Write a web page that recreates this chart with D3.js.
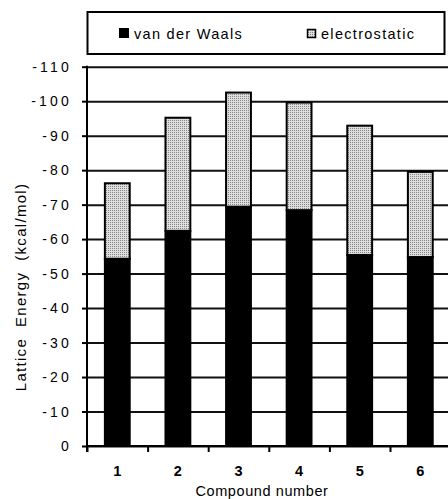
<!DOCTYPE html>
<html>
<head>
<meta charset="utf-8">
<script src="https://cdn.jsdelivr.net/npm/d3@7"></script>
<style>
  body { margin: 0; background: #fff; }
  svg { display: block; }
  text { font-family: "Liberation Sans", Arial, Helvetica, sans-serif; fill: #000; }
</style>
</head>
<body>
<svg id="chart" width="448" height="499"></svg>
<script>
let compounds = ["1", "2", "3", "4", "5", "6"]
let vdw = [-54.3, -62.4, -69.4, -68.4, -55.4, -54.8]
let electrostatic = [-21.9, -32.8, -33.1, -31.2, -37.5, -24.7]
let yTicks = [0, -10, -20, -30, -40, -50, -60, -70, -80, -90, -100, -110]
let seriesNames = ["van der Waals", "electrostatic"]

let width = 448,
  height = 499,
  left = 87,
  bottom = 446

let svg = d3.select("#chart")

// stipple fill for the electrostatic part
let pat = svg.append("defs").append("pattern")
  .attr("id", "stipple")
  .attr("patternUnits", "userSpaceOnUse")
  .attr("width", 2)
  .attr("height", 2)
pat.append("rect").attr("width", 2).attr("height", 2).attr("fill", "#dedede")
pat.append("rect").attr("width", 1).attr("height", 1).attr("fill", "#858585")

let y = d3.scaleLinear()
  .domain([0, -110])
  .range([bottom, 66.7])

let x = d3.scaleBand()
  .domain(compounds)
  .range([left, 450.6])
  .paddingInner(0.59)
  .paddingOuter(0.295)

let rows = compounds.map((c, i) => ({ compound: c, vdw: vdw[i], elec: electrostatic[i] }))
let stacked = d3.stack()
  .keys(["vdw", "elec"])
  .offset(d3.stackOffsetDiverging)(rows)

// gridlines
svg.append("g")
  .attr("transform", `translate(${left},0)`)
  .call(d3.axisLeft(y).tickValues(yTicks).tickSize(-(width - left)).tickFormat(""))
  .call(g => g.select(".domain").remove())
  .call(g => g.selectAll("line").attr("stroke", "#111").attr("stroke-width", 2))

// y axis with labels
svg.append("g")
  .attr("transform", `translate(${left},0)`)
  .call(d3.axisLeft(y).tickValues(yTicks).tickSize(5).tickPadding(10).tickFormat(d => String(d)))
  .call(g => g.select(".domain").remove())
  .call(g => g.selectAll("line").attr("stroke", "#000").attr("stroke-width", 2))
  .call(g => g.selectAll("text")
    .attr("font-size", 14)
    .attr("letter-spacing", 3.2)
    .attr("font-family", "'Liberation Sans', Arial, sans-serif"))

// bars
let bars = svg.append("g")
stacked.forEach(s => {
  bars.selectAll(null)
    .data(s).enter()
    .append("rect")
    .attr("x", d => x(d.data.compound))
    .attr("width", x.bandwidth())
    .attr("y", d => y(d[0]))
    .attr("height", d => y(d[1]) - y(d[0]))
    .attr("fill", s.key == "vdw" ? "#000" : "url(#stipple)")
    .attr("stroke", "#000")
    .attr("stroke-width", 2)
})

// axis lines
svg.append("line")
  .attr("x1", left).attr("x2", left)
  .attr("y1", y(-110) - 1).attr("y2", bottom + 6)
  .attr("stroke", "#000").attr("stroke-width", 2)
svg.append("line")
  .attr("x1", left).attr("x2", width)
  .attr("y1", bottom).attr("y2", bottom)
  .attr("stroke", "#000").attr("stroke-width", 2)

// x ticks at category boundaries
let xb = d3.scaleLinear().domain([0, 6]).range([left, 450.6])
svg.append("g")
  .attr("transform", `translate(0,${bottom})`)
  .call(d3.axisBottom(xb).ticks(6).tickSize(6).tickFormat(""))
  .call(g => g.select(".domain").remove())
  .call(g => g.selectAll("line").attr("stroke", "#000").attr("stroke-width", 2))

// x labels
svg.append("g")
  .attr("transform", `translate(0,${bottom})`)
  .call(d3.axisBottom(x).tickSize(0).tickPadding(20))
  .call(g => g.select(".domain").remove())
  .call(g => g.selectAll("text")
    .attr("font-size", 14.5)
    .attr("font-weight", "bold")
    .attr("font-family", "'Liberation Sans', Arial, sans-serif"))

svg.append("text")
  .attr("x", 262)
  .attr("y", 496)
  .attr("text-anchor", "middle")
  .attr("font-size", 14.5)
  .attr("letter-spacing", 0.6)
  .text("Compound number")

svg.append("text")
  .attr("transform", "translate(26,287) rotate(-90)")
  .attr("text-anchor", "middle")
  .attr("font-size", 15)
  .attr("letter-spacing", 1.3)
  .style("white-space", "pre")
  .text("Lattice  Energy  (kcal/mol)")

// legend
let legend = svg.append("g")
legend.append("rect")
  .attr("x", 87.5).attr("y", 12)
  .attr("width", 357).attr("height", 42)
  .attr("fill", "#fff")
  .attr("stroke", "#000").attr("stroke-width", 2)
legend.append("rect")
  .attr("x", 119).attr("y", 28).attr("width", 10).attr("height", 10)
  .attr("fill", "#000")
legend.append("rect")
  .attr("x", 307.5).attr("y", 29.5).attr("width", 8).attr("height", 8)
  .attr("fill", "url(#stipple)").attr("stroke", "#000").attr("stroke-width", 1.5)
legend.selectAll("text.lg")
  .data(seriesNames).enter()
  .append("text")
  .attr("class", "lg")
  .attr("x", (d, i) => i == 0 ? 134 : 321)
  .attr("y", 38.5)
  .attr("font-size", 14.5)
  .attr("letter-spacing", 1.3)
  .text(d => d)
</script>
</body>
</html>
